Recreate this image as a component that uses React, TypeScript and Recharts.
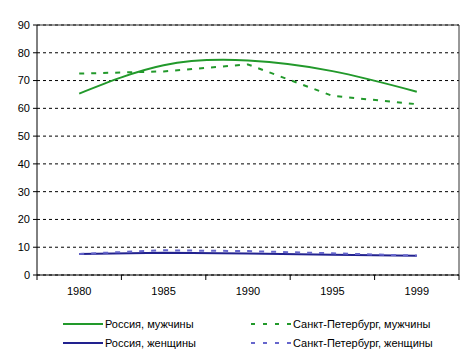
import React from "react"
import {
  LineChart,
  Line,
  XAxis,
  YAxis,
  CartesianGrid,
  ReferenceLine,
  Legend,
} from "recharts"

const years = ["1980", "1985", "1990", "1995", "1999"]
const russiaMen = [65.3, 75.5, 77.2, 73.4, 66.0]
const spbMen = [72.5, 73.3, 75.8, 64.5, 61.5]
const russiaWomen = [7.6, 8.0, 7.7, 7.3, 6.9]
const spbWomen = [7.6, 8.9, 8.6, 7.8, 7.0]
const yTicks = [0, 10, 20, 30, 40, 50, 60, 70, 80, 90]

const GREEN = "#22992b"
const NAVY = "#22228f"
const LIGHT_BLUE = "#6666cc"
const FONT = "'Liberation Sans', Arial, sans-serif"

const data = years.map((year, i) => ({
  i,
  year,
  rm: russiaMen[i],
  sm: spbMen[i],
  rw: russiaWomen[i],
  sw: spbWomen[i],
}))

// labels sit on the category centres, tick marks on the category boundaries
const xTicks: number[] = []
for (let k = -0.5; k <= years.length - 0.5; k += 0.5) xTicks.push(k)

function XTick(props: any) {
  const { x, y, payload } = props
  const v = payload.value as number
  if (Number.isInteger(v)) {
    return (
      <text x={x} y={y + 12} dy="0.71em" textAnchor="middle" fill="#000" fontSize={11} fontFamily={FONT}>
        {years[v]}
      </text>
    )
  }
  return <line x1={x} y1={y} x2={x} y2={y + 5} stroke="#000" />
}

const legendItems = [
  { name: "Россия, мужчины", color: GREEN, dashed: false, col: 0, row: 0 },
  { name: "Санкт-Петербург, мужчины", color: GREEN, dashed: true, col: 1, row: 0 },
  { name: "Россия, женщины", color: NAVY, dashed: false, col: 0, row: 1 },
  { name: "Санкт-Петербург, женщины", color: LIGHT_BLUE, dashed: true, col: 1, row: 1 },
]

function renderLegend() {
  return (
    <div style={{ position: "relative", height: 44, fontFamily: FONT, fontSize: 11 }}>
      {legendItems.map((it) => (
        <div
          key={it.name}
          style={{
            position: "absolute",
            left: it.col === 0 ? 63 : 251,
            top: it.row === 0 ? 5 : 24,
            display: "flex",
            alignItems: "center",
            height: 12,
            whiteSpace: "nowrap",
            color: "#000",
          }}
        >
          <svg width={42} height={6}>
            <line
              x1={0}
              y1={3}
              x2={40}
              y2={3}
              stroke={it.color}
              strokeWidth={2}
              strokeDasharray={it.dashed ? "4 8" : undefined}
            />
          </svg>
          <span>{it.name}</span>
        </div>
      ))}
    </div>
  )
}

export default function App() {
  return (
    <div style={{ position: "absolute", left: 0, top: 0, background: "#fff" }}>
      <LineChart
        width={474}
        height={359}
        data={data}
        margin={{ top: 25, right: 15, left: 0, bottom: 13 }}
        style={{ fontFamily: FONT }}
      >
        <CartesianGrid vertical={false} stroke="#000" strokeDasharray="3 3" />
        <XAxis
          type="number"
          dataKey="i"
          domain={[-0.5, years.length - 0.5]}
          ticks={xTicks}
          interval={0}
          tickLine={false}
          tickSize={0}
          tickMargin={0}
          height={27}
          stroke="#000"
          tick={<XTick />}
        />
        <YAxis
          type="number"
          domain={[0, 90]}
          ticks={yTicks}
          interval={0}
          width={37}
          tickSize={4}
          tickMargin={3}
          stroke="#000"
          tick={{ fill: "#000", fontSize: 11 }}
        />
        <ReferenceLine y={90} stroke="#333" />
        <ReferenceLine x={years.length - 0.5} stroke="#333" />
        <Line
          type="natural"
          dataKey="rm"
          stroke={GREEN}
          strokeWidth={2}
          dot={false}
          isAnimationActive={false}
        />
        <Line
          type="linear"
          dataKey="sm"
          stroke={GREEN}
          strokeWidth={2}
          strokeDasharray="5 7"
          dot={false}
          isAnimationActive={false}
        />
        <Line
          type="linear"
          dataKey="rw"
          stroke={NAVY}
          strokeWidth={2}
          dot={false}
          isAnimationActive={false}
        />
        <Line
          type="linear"
          dataKey="sw"
          stroke={LIGHT_BLUE}
          strokeWidth={2}
          strokeDasharray="5 7"
          dot={false}
          isAnimationActive={false}
        />
        <Legend
          verticalAlign="bottom"
          height={44}
          wrapperStyle={{ top: 313, left: 0, width: 474 }}
          content={renderLegend}
        />
      </LineChart>
    </div>
  )
}
